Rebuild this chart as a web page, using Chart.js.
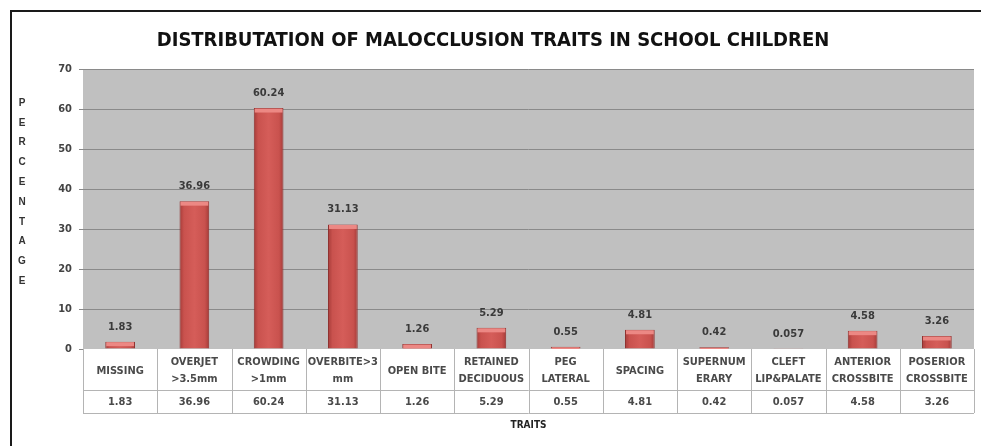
<!DOCTYPE html>
<html>
<head>
<meta charset="utf-8">
<script src="https://cdn.jsdelivr.net/npm/chart.js@4.4.1/dist/chart.umd.min.js"></script>
<style>
  html, body { margin: 0; padding: 0; background: #fff; }
  #wrap { width: 981px; height: 446px; }
</style>
</head>
<body>
<div id="wrap"><canvas id="grafico" width="981" height="446"></canvas></div>
<script>
// dados do grafico
const categorias = [
  ['MISSING'], ['OVERJET', '>3.5mm'], ['CROWDING', '>1mm'], ['OVERBITE>3', 'mm'],
  ['OPEN BITE'], ['RETAINED', 'DECIDUOUS'], ['PEG', 'LATERAL'], ['SPACING'],
  ['SUPERNUM', 'ERARY'], ['CLEFT', 'LIP&PALATE'], ['ANTERIOR', 'CROSSBITE'], ['POSERIOR', 'CROSSBITE']
];
const valores = [1.83, 36.96, 60.24, 31.13, 1.26, 5.29, 0.55, 4.81, 0.42, 0.057, 4.58, 3.26];
const ticksY = [0, 10, 20, 30, 40, 50, 60, 70];
const titulo = 'DISTRIBUTATION OF MALOCCLUSION TRAITS IN SCHOOL CHILDREN';
const tituloY = 'PERCENTAGE';
const tituloX = 'TRAITS';

const fonte = '"Liberation Sans Narrow", "DejaVu Sans Condensed", "Liberation Sans", sans-serif';

// moldura, fundo da area do grafico, titulos
const decoracao = {
  id: 'decoracao',
  beforeDraw(chart) {
    const c = chart.ctx, a = chart.chartArea;
    c.save();
    c.fillStyle = '#fff';
    c.fillRect(0, 0, chart.width, chart.height);
    c.strokeStyle = '#1a1a1a';
    c.lineWidth = 2;
    c.strokeRect(11, 11, 1000, 500);
    c.fillStyle = '#c0c0c0';
    c.fillRect(a.left, a.top, a.right - a.left, a.bottom - a.top);
    // titulo
    c.fillStyle = '#111';
    c.font = 'bold 20px ' + fonte;
    c.textAlign = 'center';
    c.textBaseline = 'middle';
    c.fillText(titulo, 493, 41);
    // titulo vertical letra por letra
    c.font = 'bold 10px "Liberation Sans", sans-serif';
    c.fillStyle = '#333';
    tituloY.split('').forEach((l, i) => c.fillText(l, 22, 103 + i * 19.8));
    c.restore();
  },
  beforeDatasetsDraw(chart) {
    const c = chart.ctx;
    chart.getDatasetMeta(0).data.forEach(el => {
      const w = el.width, x0 = el.x - w / 2;
      const g = c.createLinearGradient(x0, 0, x0 + w, 0);
      g.addColorStop(0, '#a53b38');
      g.addColorStop(0.15, '#c9524e');
      g.addColorStop(0.5, '#d55d59');
      g.addColorStop(0.85, '#c9524e');
      g.addColorStop(1, '#a53b38');
      // opcoes proprias para cada barra (senao ficam compartilhadas)
      el.options = Object.assign({}, el.options, { backgroundColor: g });
    });
  },
  afterDatasetsDraw(chart) {
    const c = chart.ctx, x = chart.scales.x;
    c.save();
    // tampa clara no topo das barras + rotulos
    chart.getDatasetMeta(0).data.forEach((el, i) => {
      const w = el.width, x0 = el.x - w / 2;
      const h = Math.min(4, el.base - el.y);
      c.fillStyle = '#ec8884';
      c.fillRect(x0 + 1, el.y + 0.5, w - 2, h);
      c.fillStyle = '#3a3a3a';
      c.font = 'bold 11px ' + fonte;
      c.textAlign = 'center';
      c.textBaseline = 'middle';
      c.fillText(String(valores[i]), el.x, el.y - 15);
    });
    // tabela de dados
    const a = chart.chartArea;
    const top = a.bottom, meio = top + 41, fim = top + 64;
    const passo = (a.right - a.left) / categorias.length;
    c.fillStyle = '#fff';
    c.fillRect(a.left, top, a.right - a.left, fim - top);
    c.strokeStyle = '#b4b4b4';
    c.lineWidth = 1;
    c.beginPath();
    c.moveTo(a.left, meio + 0.5); c.lineTo(a.right, meio + 0.5);
    c.moveTo(a.left, fim + 0.5); c.lineTo(a.right, fim + 0.5);
    for (let i = 0; i <= categorias.length; i++) {
      const px = Math.round(a.left + i * passo) + 0.5;
      c.moveTo(px, top); c.lineTo(px, fim);
    }
    c.stroke();
    c.fillStyle = '#4a4a4a';
    c.textAlign = 'center';
    c.textBaseline = 'middle';
    categorias.forEach((linhas, i) => {
      const cx = x.getPixelForValue(i);
      c.font = 'bold 11px ' + fonte;
      if (linhas.length === 1) {
        c.fillText(linhas[0], cx, top + 22);
      } else {
        c.fillText(linhas[0], cx, top + 13);
        c.fillText(linhas[1], cx, top + 30);
      }
      c.font = 'bold 11px ' + fonte;
      c.fillText(String(valores[i]), cx, meio + 12);
    });
    c.fillStyle = '#222';
    c.font = 'bold 10px ' + fonte;
    c.fillText(tituloX, (a.left + a.right) / 2, 425);
    c.restore();
  }
};

const ctx = document.getElementById('grafico').getContext('2d');
new Chart(ctx, {
  type: 'bar',
  data: {
    labels: categorias.map(l => l.join(' ')),
    datasets: [{
      data: valores,
      backgroundColor: '#c9524e',
      borderColor: '#8f2f2d',
      borderWidth: 1,
      barPercentage: 0.4,
      categoryPercentage: 1
    }]
  },
  options: {
    responsive: false,
    animation: false,
    layout: { padding: { left: 0, right: 7, top: 69, bottom: 97 } },
    plugins: { legend: { display: false }, tooltip: { enabled: false } },
    scales: {
      x: { display: false },
      y: {
        min: 0, max: 70,
        afterFit: s => { s.width = 83; },
        afterBuildTicks: s => { s.ticks = ticksY.map(v => ({ value: v })); },
        border: { display: false },
        grid: { color: '#8a8a8a', lineWidth: 1, tickLength: 4 },
        ticks: { padding: 7, color: '#444', font: { family: fonte, size: 11, weight: 'bold' } }
      }
    }
  },
  plugins: [decoracao]
});
</script>
</body>
</html>
